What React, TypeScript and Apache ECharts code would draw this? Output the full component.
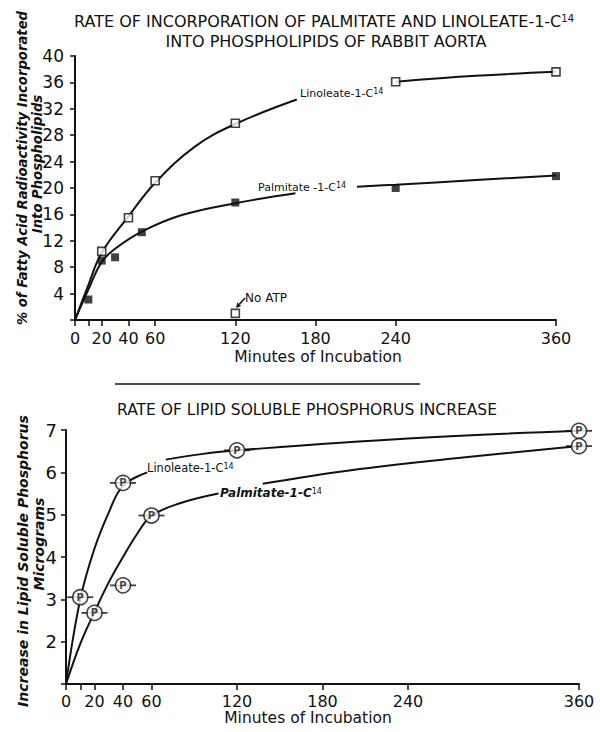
import React, { useEffect, useRef } from 'react';
import * as echarts from 'echarts';

// ---------- data ----------
const xTickValues = [0, 10, 20, 40, 60, 120, 180, 240, 360];
const xLabelValues = [0, 20, 40, 60, 120, 180, 240, 360];

// Top chart: % of fatty acid radioactivity incorporated
const linoleatePoints = [[20, 10.4], [40, 15.5], [60, 21.1], [120, 29.8], [240, 36.1], [360, 37.6]];
const palmitatePoints = [[10, 3.1], [20, 9.0], [30, 9.5], [50, 13.3], [120, 17.8], [240, 20.0], [360, 21.8]];
const noAtpPoint = [[120, 1.0]];
const linoleateCurveA = [[0, 0], [10, 5.3], [20, 10.2], [40, 15.7], [60, 20.8], [90, 26.3], [120, 29.7], [166, 33.4]];
const linoleateCurveB = [[240, 36.1], [300, 37.0], [360, 37.6]];
const palmitateCurveA = [[0, 0], [10, 4.6], [20, 8.8], [30, 10.8], [50, 13.4], [80, 15.9], [120, 17.7], [165, 19.2]];
const palmitateCurveB = [[211, 20.2], [240, 20.5], [300, 21.2], [360, 21.9]];

// Bottom chart: increase in lipid soluble phosphorus (micrograms)
const linoleatePPoints = [[10, 3.05], [40, 5.75], [120, 6.52], [360, 6.98]];
const palmitatePPoints = [[20, 2.68], [40, 3.33], [60, 4.98], [360, 6.62]];
const linoleatePCurveA = [[0, 1], [10, 3.0], [20, 4.2], [30, 5.05], [40, 5.68], [57, 6.0]];
const linoleatePCurveB = [[70, 6.3], [95, 6.43], [120, 6.52], [240, 6.8], [360, 6.98]];
const palmitatePCurveA = [[0, 1], [10, 1.95], [20, 2.7], [30, 3.4], [40, 4.0], [50, 4.55], [60, 4.97], [80, 5.27], [107, 5.5]];
const palmitatePCurveB = [[138, 5.73], [200, 6.05], [270, 6.32], [360, 6.62]];

const ink = '#111';
const FONT = 'DejaVu Sans';

function lineSeries(data: number[][], gi: number) {
  return {
    type: 'line',
    xAxisIndex: gi,
    yAxisIndex: gi,
    data,
    smooth: 0.4,
    symbol: 'none',
    lineStyle: { color: ink, width: 2 },
    z: 2,
  };
}

function xAxisCfg(gi: number, margin: number) {
  return {
    type: 'value',
    gridIndex: gi,
    min: 0,
    max: 360,
    axisLine: { show: true, lineStyle: { color: ink, width: 2 } },
    axisTick: { show: true, customValues: xTickValues, length: 6, lineStyle: { color: ink, width: 1.5 } },
    axisLabel: { customValues: xLabelValues, fontSize: 16, fontFamily: FONT, color: ink, margin },
    splitLine: { show: false },
  };
}

const sup = (size: number) => ({ s: { fontSize: size, verticalAlign: 'top', fill: ink, fontFamily: FONT } });

function txt(text: string, x: number, y: number, extra: any = {}, styleExtra: any = {}) {
  return {
    type: 'text',
    x,
    y,
    ...extra,
    style: {
      text,
      fontSize: 14,
      fontFamily: FONT,
      fill: ink,
      textAlign: 'center',
      align: 'center',
      textVerticalAlign: 'middle',
      verticalAlign: 'middle',
      rich: sup(10),
      ...styleExtra,
    },
  };
}

export default function App() {
  const ref = useRef<HTMLDivElement>(null);
  useEffect(() => {
    if (!ref.current) return;
    const chart = echarts.init(ref.current, undefined, { renderer: 'svg' });
    const option: any = {
      animation: false,
      backgroundColor: '#fff',
      grid: [
        { left: 75, top: 56, width: 481, height: 264 },
        { left: 66, top: 430, width: 513, height: 254 },
      ],
      xAxis: [xAxisCfg(0, 10), xAxisCfg(1, 9)],
      yAxis: [
        {
          type: 'value', gridIndex: 0, min: 0, max: 40, interval: 4,
          axisLine: { show: true, lineStyle: { color: ink, width: 2 } },
          axisTick: { show: true, length: 5, lineStyle: { color: ink, width: 1.5 } },
          axisLabel: { fontSize: 17, fontFamily: FONT, color: ink, margin: 11, formatter: (v: number) => (v === 0 ? '' : String(v)) },
          splitLine: { show: false },
        },
        {
          type: 'value', gridIndex: 1, min: 1, max: 7, interval: 1,
          axisLine: { show: true, lineStyle: { color: ink, width: 2 } },
          axisTick: { show: true, length: 5, lineStyle: { color: ink, width: 1.5 } },
          axisLabel: { fontSize: 18, fontFamily: FONT, color: ink, margin: 9, formatter: (v: number) => (v === 1 ? '' : String(v)) },
          splitLine: { show: false },
        },
      ],
      series: [
        lineSeries(linoleateCurveA, 0),
        lineSeries(linoleateCurveB, 0),
        lineSeries(palmitateCurveA, 0),
        lineSeries(palmitateCurveB, 0),
        {
          type: 'scatter', xAxisIndex: 0, yAxisIndex: 0, data: linoleatePoints,
          symbol: 'rect', symbolSize: 8,
          itemStyle: { color: '#fff', borderColor: ink, borderWidth: 1.6 }, z: 4,
        },
        {
          type: 'scatter', xAxisIndex: 0, yAxisIndex: 0, data: palmitatePoints,
          symbol: 'rect', symbolSize: 8,
          itemStyle: { color: ink }, z: 4,
        },
        {
          type: 'scatter', xAxisIndex: 0, yAxisIndex: 0, data: noAtpPoint,
          symbol: 'rect', symbolSize: 8,
          itemStyle: { color: '#fff', borderColor: ink, borderWidth: 1.6 }, z: 4,
        },
        lineSeries(linoleatePCurveA, 1),
        lineSeries(linoleatePCurveB, 1),
        lineSeries(palmitatePCurveA, 1),
        lineSeries(palmitatePCurveB, 1),
        {
          type: 'scatter', xAxisIndex: 1, yAxisIndex: 1, data: linoleatePPoints,
          symbol: 'rect', symbolSize: [26, 1.8], itemStyle: { color: ink }, z: 3,
        },
        {
          type: 'scatter', xAxisIndex: 1, yAxisIndex: 1, data: palmitatePPoints,
          symbol: 'rect', symbolSize: [26, 1.8], itemStyle: { color: ink }, z: 3,
        },
        ...[linoleatePPoints, palmitatePPoints].map((d) => ({
          type: 'scatter', xAxisIndex: 1, yAxisIndex: 1, data: d,
          symbol: 'circle', symbolSize: 15,
          itemStyle: { color: '#fff', borderColor: ink, borderWidth: 1.6 },
          label: { show: true, position: 'inside', formatter: 'P', fontSize: 10, fontWeight: 'bold', fontFamily: FONT, color: ink },
          z: 4,
        })),
      ],
      graphic: [
        txt('RATE OF INCORPORATION OF PALMITATE AND LINOLEATE-1-C{s|14}', 324, 21, {}, { fontSize: 16 }),
        txt('INTO PHOSPHOLIPIDS OF RABBIT AORTA', 326, 41, {}, { fontSize: 16 }),
        txt('% of Fatty Acid Radioactivity Incorporated', 22, 168, { rotation: Math.PI / 2 }, { fontStyle: 'italic', fontWeight: 'bold', fontSize: 13.2 }),
        txt('Into Phospholipids', 37, 164, { rotation: Math.PI / 2 }, { fontStyle: 'italic', fontWeight: 'bold', fontSize: 13.2 }),
        txt('Minutes of Incubation', 318, 357, {}, { fontSize: 15.5 }),
        txt('Linoleate-1-C{s|14}', 300, 93, {}, { fontSize: 11, textAlign: 'left', align: 'left', rich: sup(8) }),
        txt('Palmitate -1-C{s|14}', 258, 187, {}, { fontSize: 11, textAlign: 'left', align: 'left', rich: sup(8) }),
        txt('No ATP', 245, 298, {}, { fontSize: 12, textAlign: 'left', align: 'left' }),
        { type: 'line', shape: { x1: 245, y1: 298, x2: 239.3, y2: 304.3 }, style: { stroke: ink, lineWidth: 1.5 } },
        { type: 'polygon', shape: { points: [[236, 308], [241.2, 306.0], [237.4, 302.6]] }, style: { fill: ink } },
        { type: 'line', shape: { x1: 115, y1: 384, x2: 420, y2: 384 }, style: { stroke: ink, lineWidth: 1.5 } },
        txt('RATE OF LIPID SOLUBLE PHOSPHORUS INCREASE', 307, 410, {}, { fontSize: 15.5 }),
        txt('Increase in Lipid Soluble Phosphorus', 23, 561, { rotation: Math.PI / 2 }, { fontStyle: 'italic', fontWeight: 'bold', fontSize: 14 }),
        txt('Micrograms', 39, 544, { rotation: Math.PI / 2 }, { fontStyle: 'italic', fontWeight: 'bold', fontSize: 14 }),
        txt('Linoleate-1-C{s|14}', 147, 468, {}, { fontSize: 11.5, textAlign: 'left', align: 'left', rich: sup(8) }),
        txt('Palmitate-1-C{s|14}', 220, 493, {}, { fontSize: 12, fontStyle: 'italic', fontWeight: 'bold', textAlign: 'left', align: 'left', rich: sup(8) }),
        txt('Minutes of Incubation', 308, 718, {}, { fontSize: 15.5 }),
      ],
    };
    chart.setOption(option);
    return () => chart.dispose();
  }, []);
  return <div ref={ref} style={{ position: 'absolute', left: 0, top: 0, width: 600, height: 732 }} />;
}
